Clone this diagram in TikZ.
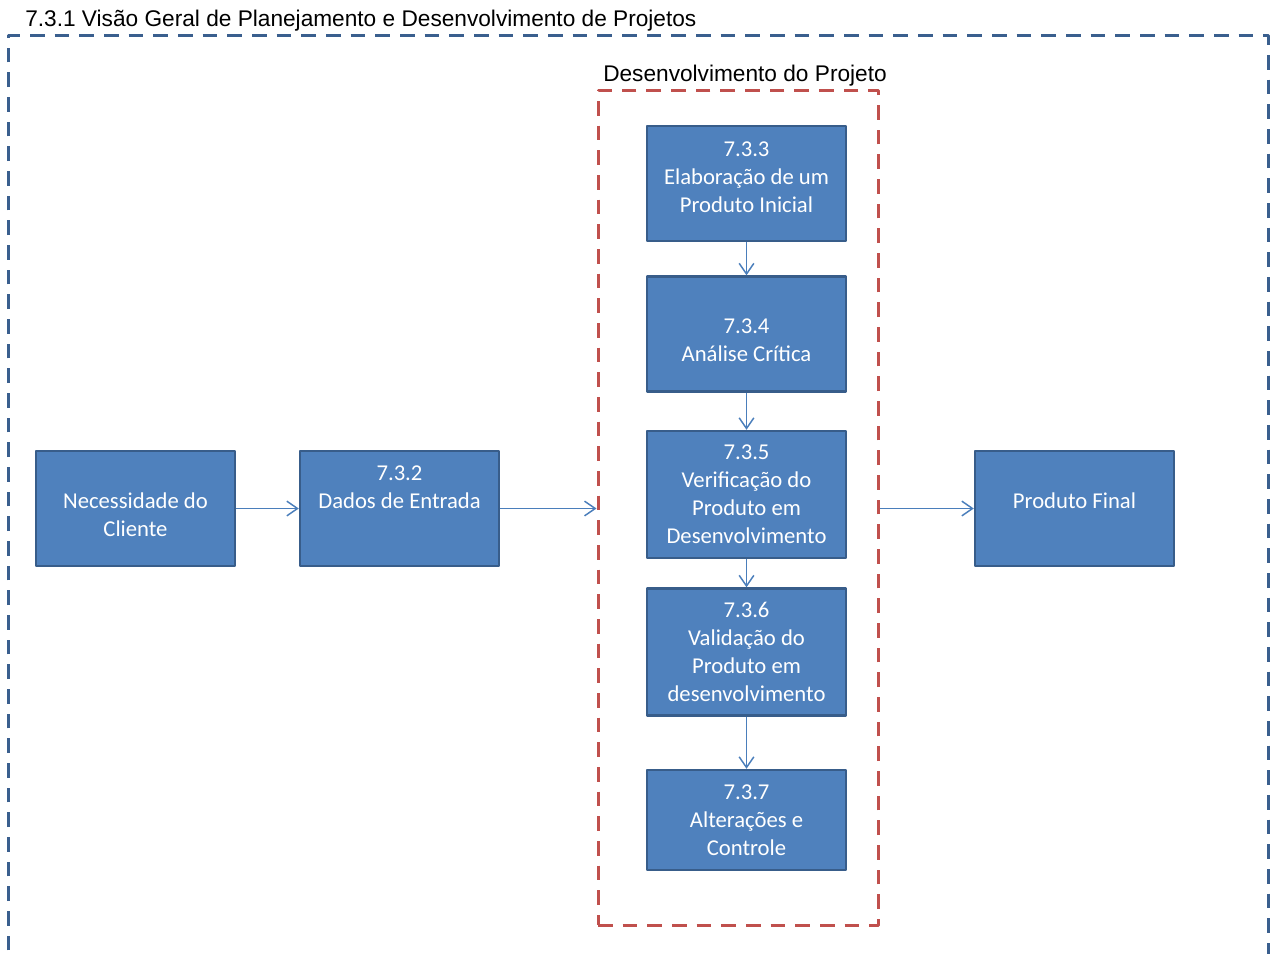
\documentclass[tikz,border=0pt]{standalone}
\usepackage{fontspec}
\setmainfont{Carlito}
\newfontfamily\arialfont{Liberation Sans}
\usetikzlibrary{arrows.meta}
\definecolor{caixa}{HTML}{4F81BD}
\definecolor{borda}{HTML}{385D8A}
\definecolor{seta}{HTML}{4A7EBB}
\definecolor{moldura}{HTML}{3A5F8E}
\definecolor{vermelho}{HTML}{C0504D}
\begin{document}
\begin{tikzpicture}[x=0.75pt,y=-0.75pt,line join=round,>={Straight Barb[length=8pt,width=11pt]}]
            \tikzset{caixa/.style={draw=borda,fill=caixa,line width=1.8pt,text=white,align=center,
                    minimum width=149.25pt,minimum height=86.25pt,inner sep=0pt,
                    font=\fontsize{17}{21}\selectfont},
                seta/.style={->,draw=seta,line width=1.1pt},
                rotulo/.style={font=\arialfont\fontsize{17}{20}\selectfont,inner sep=0pt},
                tracejado/.style={line width=2.25pt,dash pattern=on 11pt off 7.5pt}}
            \useasboundingbox (0,0) rectangle (1276,953);
            \node[rotulo,anchor=west] (titulo) at (25,21) {7.3.1 Visão Geral de Planejamento e Desenvolvimento de Projetos};
            \draw[moldura,tracejado] (8,975)--(8,35)--(1268,35)--(1268,975);
            \node[draw=vermelho,tracejado,minimum width=210pt,minimum height=626.25pt,inner sep=0pt] (projeto) at (738,507.5) {};
            \node[rotulo] (desenv) at (745,76) {Desenvolvimento do Projeto};
            % caixas
            \node[caixa] (necessidade) at (135.5,508.5) {\rule{0pt}{21pt}Necessidade do\\Cliente};
            \node[caixa] (dados) at (399.5,508.5) {7.3.2\\Dados de Entrada\\\rule[-11pt]{0pt}{0pt}};
            \node[caixa] (b733) at (746.5,183.5) {7.3.3\\Elaboração de um\\Produto Inicial\rule[-9pt]{0pt}{0pt}};
            \node[caixa] (b734) at (746.5,334) {\rule{0pt}{21pt}7.3.4\\Análise Crítica};
            \node[caixa,minimum height=95.25pt] (b735) at (746.5,494.5) {7.3.5\\Verificação do\\Produto em\\Desenvolvimento};
            \node[caixa,minimum height=95.25pt] (b736) at (746.5,652) {7.3.6\\Validação do\\Produto em\\desenvolvimento};
            \node[caixa,minimum height=75pt] (b737) at (746.5,820) {7.3.7\\Alterações e\\Controle};
            \node[caixa] (final) at (1074.5,508.5) {Produto Final\rule[-12pt]{0pt}{0pt}};
            % setas
            \draw[seta] (necessidade.east)--(dados.west);
            \draw[seta] (dados.east)--(dados.east -| projeto.west);
            \draw[seta] (projeto.east |- final.west)--(final.west);
            \foreach \a/\b in {b733/b734,b734/b735,b735/b736,b736/b737}
            \draw[seta] (\a.south)--(\b.north);
        \end{tikzpicture}
\end{document}
